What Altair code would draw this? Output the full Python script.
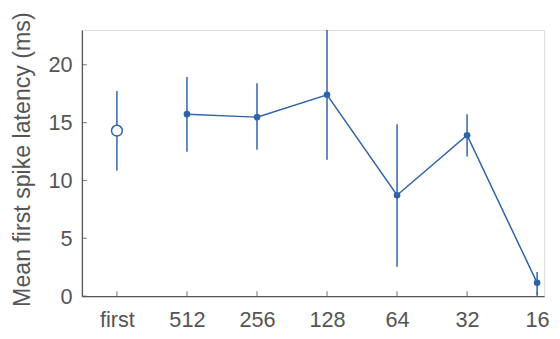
import altair as alt
import pandas as pd

categories = ["first", "512", "256", "128", "64", "32", "16"]
means = [14.3, 15.73, 15.47, 17.4, 8.72, 13.91, 1.15]
lower = [10.85, 12.47, 12.66, 11.79, 2.54, 12.07, 0.05]
upper = [17.74, 18.94, 18.4, 23.0, 14.85, 15.73, 2.08]
y_ticks = [0, 5, 10, 15, 20]

BLUE = "#2f63a8"
GREY = "#555555"
FONT = "Liberation Sans"

df = pd.DataFrame({
    "idx": list(range(len(categories))),
    "cat": categories,
    "mean": means,
    "lo": lower,
    "hi": upper,
})

xdom = [-0.5, 6.1]
ydom = [0, 23]

label_expr = "[" + ",".join("'" + c + "'" for c in categories) + "][datum.value]"

x = alt.X("idx:Q", scale=alt.Scale(domain=xdom, nice=False, zero=False),
          axis=alt.Axis(values=list(range(len(categories))), labelExpr=label_expr,
                        title=None, grid=False, ticks=False, labelPadding=14,
                        labelFontSize=22, labelColor=GREY, labelFont=FONT,
                        domainColor=GREY, domainWidth=1.3, labelFlush=False))
y = alt.Y("mean:Q", scale=alt.Scale(domain=ydom, nice=False),
          axis=alt.Axis(values=y_ticks, title="Mean first spike latency (ms)",
                        grid=False, ticks=False, labelPadding=10,
                        labelFontSize=22, labelColor=GREY, labelFont=FONT,
                        titleFontSize=23.5, titleColor=GREY, titleFont=FONT,
                        titleFontWeight="normal", titlePadding=14, titleY=131,
                        domainColor=GREY, domainWidth=1.3))

base = alt.Chart(df)

err = base.mark_rule(color=BLUE, strokeWidth=1.5).encode(
    x=x, y=alt.Y("lo:Q", scale=alt.Scale(domain=ydom, nice=False)), y2="hi:Q")

line = base.transform_filter("datum.cat != 'first'").mark_line(
    color=BLUE, strokeWidth=1.5).encode(x=x, y=y)

dots = base.transform_filter("datum.cat != 'first'").mark_point(
    filled=True, color=BLUE, size=45, opacity=1).encode(x=x, y=y)

open_pt = base.transform_filter("datum.cat == 'first'").mark_point(
    filled=True, fill="white", stroke=BLUE, strokeWidth=1.5, size=120, opacity=1
).encode(x=x, y=y)

xt = pd.DataFrame({"idx": list(range(len(categories))), "v": [0] * len(categories)})
xticks = alt.Chart(xt).mark_tick(orient="vertical", size=5, thickness=1.2,
                                 color=GREY, yOffset=-2.5).encode(
    x=alt.X("idx:Q", scale=alt.Scale(domain=xdom, nice=False, zero=False)),
    y=alt.Y("v:Q", scale=alt.Scale(domain=ydom, nice=False)))

yt = pd.DataFrame({"v": y_ticks, "idx": [xdom[0]] * len(y_ticks)})
yticks = alt.Chart(yt).mark_tick(orient="horizontal", size=5, thickness=1.2,
                                 color=GREY, xOffset=2.5).encode(
    x=alt.X("idx:Q", scale=alt.Scale(domain=xdom, nice=False, zero=False)),
    y=alt.Y("v:Q", scale=alt.Scale(domain=ydom, nice=False)))

chart = alt.layer(xticks, yticks, err, line, dots, open_pt).properties(
    width=469, height=270,
    autosize=alt.AutoSizeParams(type="none"),
    padding={"left": 75, "top": 20, "right": 8, "bottom": 33},
).configure_view(stroke=None).configure(background="white")

chart.save("out.html", embed_options={"renderer": "svg", "actions": False})
